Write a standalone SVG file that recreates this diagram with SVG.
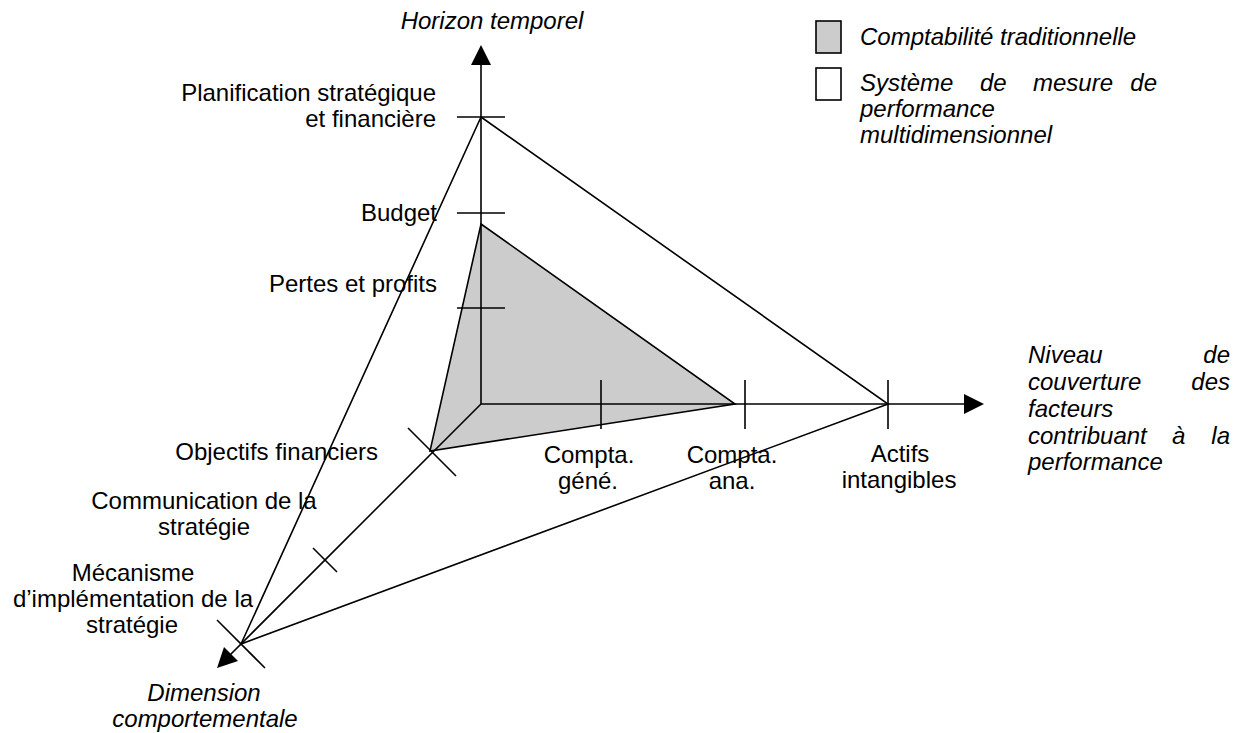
<svg xmlns="http://www.w3.org/2000/svg" width="1247" height="733" viewBox="0 0 1247 733">
<style>
.ln{stroke:#000;stroke-width:1.6;fill:none}
.ah{fill:#000;stroke:none}
.t{font-family:"Liberation Sans",Arial,sans-serif;font-size:24px;fill:#000}
.i{font-style:italic}
.m{text-anchor:middle}
.e{text-anchor:end}
</style>
<rect width="1247" height="733" fill="#fff"/>
<g id="traditional-area">
<polygon points="481,224 735,404 430,451" fill="#cccccc" stroke="#000" stroke-width="1.6"/>
</g>
<g id="connectors">
<line class="ln" x1="481" y1="404" x2="481" y2="64"/>
<line class="ln" x1="481" y1="404" x2="965" y2="404"/>
<line class="ln" x1="481" y1="404" x2="230" y2="655"/>
<polygon class="ah" points="481,45 471,65 491,65"/>
<polygon class="ah" points="984,404 964,394 964,414"/>
<polygon class="ah" points="217,668 224,647 238,661"/>
<polyline class="ln" points="481,117 888,404 241,644 481,117"/>
</g>
<g id="ticks">
<line class="ln" x1="457" y1="117" x2="505" y2="117"/>
<line class="ln" x1="457" y1="213" x2="505" y2="213"/>
<line class="ln" x1="457" y1="308" x2="505" y2="308"/>
<line class="ln" x1="601" y1="380" x2="601" y2="429"/>
<line class="ln" x1="745" y1="380" x2="745" y2="429"/>
<line class="ln" x1="888" y1="380" x2="888" y2="429"/>
<line class="ln" x1="408" y1="428" x2="456" y2="476"/>
<line class="ln" x1="313" y1="548" x2="337" y2="572"/>
<line class="ln" x1="217" y1="620" x2="265" y2="668"/>
</g>
<g id="axis-titles">
<text class="t i m" x="492" y="29">Horizon temporel</text>
<text class="t i" x="1028" y="363">Niveau</text>
<text class="t i e" x="1230" y="363">de</text>
<text class="t i" x="1028" y="390">couverture</text>
<text class="t i e" x="1230" y="390">des</text>
<text class="t i" x="1028" y="417">facteurs</text>
<text class="t i" x="1028" y="444">contribuant</text>
<text class="t i" x="1172" y="444">à</text>
<text class="t i e" x="1230" y="444">la</text>
<text class="t i" x="1028" y="470">performance</text>
<text class="t i m" x="204" y="701">Dimension</text>
<text class="t i m" x="205" y="727">comportementale</text>
</g>
<g id="vertical-labels">
<text class="t e" x="436" y="101">Planification stratégique</text>
<text class="t e" x="436" y="127">et financière</text>
<text class="t e" x="437" y="221">Budget</text>
<text class="t e" x="437" y="292">Pertes et profits</text>
</g>
<g id="horizontal-labels">
<text class="t m" x="589" y="463">Compta.</text>
<text class="t m" x="588" y="489">géné.</text>
<text class="t m" x="732" y="463">Compta.</text>
<text class="t m" x="732" y="489">ana.</text>
<text class="t m" x="900" y="462">Actifs</text>
<text class="t m" x="899" y="488">intangibles</text>
</g>
<g id="diagonal-labels">
<text class="t e" x="378" y="460">Objectifs financiers</text>
<text class="t m" x="204" y="509">Communication de la</text>
<text class="t m" x="204" y="535">stratégie</text>
<text class="t m" x="133" y="581">Mécanisme</text>
<text class="t m" x="133" y="607">d’implémentation de la</text>
<text class="t m" x="132" y="633">stratégie</text>
</g>
<g id="legend">
<rect x="816" y="21" width="25" height="32" fill="#cccccc" stroke="#000" stroke-width="1.6"/>
<text class="t i" x="860" y="45">Comptabilité traditionnelle</text>
<rect x="816" y="68" width="25" height="32" fill="#fff" stroke="#000" stroke-width="1.6"/>
<text class="t i" x="860" y="91">Système</text>
<text class="t i" x="980" y="91">de</text>
<text class="t i" x="1033" y="91">mesure</text>
<text class="t i e" x="1157" y="91">de</text>
<text class="t i" x="860" y="117">performance</text>
<text class="t i" x="860" y="143">multidimensionnel</text>
</g>
</svg>
